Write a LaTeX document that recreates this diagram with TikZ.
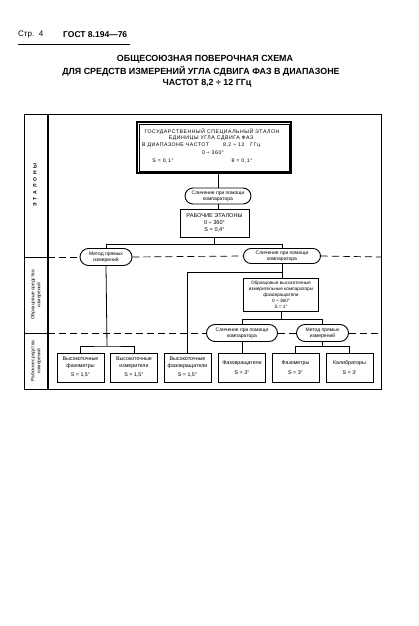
\documentclass[tikz,border=0pt]{standalone}
\usepackage{fontspec}
\setmainfont{Liberation Sans}
\usetikzlibrary{shapes.misc,calc}
\newcommand{\myfs}[1]{\fontsize{#1}{#1}\selectfont}
\begin{document}
\begin{tikzpicture}[x=1pt,y=-1pt,
  title/.style={font=\bfseries\myfs{8.9}, inner sep=0pt},
  bx/.style={draw, line width=1pt, fill=white, align=center, inner sep=0pt, font=\fontsize{5.3}{7}\selectfont},
  pill/.style={draw, rounded rectangle, line width=0.9pt, fill=white, align=center, inner sep=0pt, font=\fontsize{5}{6.2}\selectfont},
  conn/.style={line width=0.8pt},
  sepline/.style={line width=0.7pt, dash pattern=on 7pt off 4pt},
  lbl/.style={rotate=90, align=center, font=\fontsize{4.8}{6}\selectfont, inner sep=0pt},
  txt/.style={inner sep=0pt, font=\addfontfeature{LetterSpace=10}\fontsize{5.2}{6}\selectfont}]
\useasboundingbox (0,0) rectangle (418,626);
\fill[white] (0,0) rectangle (418,626);

% header
\node[anchor=west, font=\myfs{8}, inner sep=0pt] (pg) at (18,35) {Стр.\ \ 4};
\node[anchor=west, font=\bfseries\myfs{8.5}, inner sep=0pt] (gost) at (63,35) {ГОСТ 8.194—76};
\draw[line width=0.9pt] (18,44) -- (130,44);
\node[title] (t1) at (205,59) {ОБЩЕСОЮЗНАЯ ПОВЕРОЧНАЯ СХЕМА};
\node[title] (t2) at (201,71) {ДЛЯ СРЕДСТВ ИЗМЕРЕНИЙ УГЛА СДВИГА ФАЗ В ДИАПАЗОНЕ};
\node[title] (t3) at (207,83) {ЧАСТОТ 8,2 ÷ 12 ГГц};

% frame
\draw[line width=1pt] (24,114) rectangle (381,389);
\draw[line width=1.4pt] (48,114) -- (48,389);
\draw[line width=0.8pt] (24,257) -- (48,257);
\draw[line width=0.8pt] (24,333) -- (48,333);
\node[lbl, font=\bfseries\fontsize{5}{6}\selectfont] (l1) at (35,185) {Э\ \ Т\ \ А\ \ Л\ \ О\ \ Н\ \ Ы};
\node[lbl] (l2) at (36,295) {Образцовые средства\\измерений};
\node[lbl] (l3) at (36,361) {Рабочие средства\\измерений};

% nodes
\node[bx, line width=1.5pt, minimum width=154pt, minimum height=51pt] (big) at (214,147.5) {};
\draw[line width=0.45pt] ($(big.north west)+(2.5,2.5)$) rectangle ($(big.south east)+(-2.5,-2.5)$);
\node[txt] (bt1) at (212,132) {ГОСУДАРСТВЕННЫЙ СПЕЦИАЛЬНЫЙ ЭТАЛОН};
\node[txt] (bt2) at (211,138.5) {ЕДИНИЦЫ УГЛА СДВИГА ФАЗ};
\node[txt, anchor=west] (bt3) at (142,145) {В ДИАПАЗОНЕ ЧАСТОТ\hspace{14pt}8,2 ÷ 12\hspace{6pt}ГГц};
\node[txt] (bt4) at (213,152.5) {0 ÷ 360°};
\node[txt] (bt5) at (163,161) {S = 0,1°};
\node[txt] (bt6) at (242,161) {θ = 0,1°};

\node[pill, minimum width=66pt, minimum height=16pt] (c1) at (218,196) {Сличение при помощи\\компаратора};
\node[bx, minimum width=69pt, minimum height=28pt, font=\fontsize{5.6}{7.2}\selectfont] (work) at (214.5,223) {РАБОЧИЕ ЭТАЛОНЫ\\0 ÷ 360°\\S = 0,4°};
\node[pill, minimum width=52pt, minimum height=17pt] (m1) at (106,257) {Метод прямых\\измерений};
\node[pill, minimum width=77pt, minimum height=15pt] (c2) at (282,256) {Сличение при помощи\\компаратора};
\node[bx, minimum width=75pt, minimum height=33pt, font=\fontsize{4.7}{5.9}\selectfont] (obr) at (281,294.5) {Образцовые высокоточные\\измерительные компараторы\\фазовращатели\\0 ÷ 360°\\S = 1°};
\node[pill, minimum width=71pt, minimum height=17pt] (c3) at (242,333) {Сличение при помощи\\компаратора};
\node[pill, minimum width=52pt, minimum height=17pt] (m2) at (322.5,333) {Метод прямых\\измерений};

\foreach \n/\x/\t in {b1/80.5/{Высокоточные\\фазометры\\[2pt]S = 1,5°},
                      b2/134/{Высокоточные\\измерители\\[2pt]S = 1,5°},
                      b3/187.5/{Высокоточные\\фазовращатели\\[2pt]S = 1,5°},
                      b4/242/{Фазовращатели\\[3pt]S = 3°},
                      b5/295.5/{Фазометры\\[3pt]S = 3°},
                      b6/349.5/{Калибраторы\\[3pt]S = 3′}}
  \node[bx, minimum width=47pt, minimum height=29pt] (\n) at (\x,367.5) {\t};

% dashed separators
\draw[sepline] (48,257) -- (m1.west);
\draw[sepline] (m1.east) -- (c2.west);
\draw[sepline] (c2.east) -- (381,257);
\draw[sepline] (48,333) -- (c3.west);
\draw[sepline] (c3.east) -- (m2.west);
\draw[sepline] (m2.east) -- (381,333);

% connectors
\draw[conn] (big.south -| c1.north) -- (c1.north);
\draw[conn] (c1.south) -- (c1.south |- work.north);
\coordinate (j1) at ($(work.south)+(0,7)$);
\draw[conn] (work.south) -- (j1);
\draw[conn] (m1.north) |- (j1) -| (c2.north);
\coordinate (j2) at (282,272);
\draw[conn] (c2.south) -- (obr.north -| c2.south);
\draw[conn] (b3.north) |- (j2);
\coordinate (j3) at ($(obr.south)+(0,8)$);
\draw[conn] (obr.south) -- (j3);
\draw[conn] (c3.north) |- (j3) -| (m2.north);
\draw[conn] (c3.south) -- (b4.north);
\coordinate (j4) at (107,346);
\draw[conn] (m1.south) -- (j4);
\draw[conn] (b1.north) |- (j4) -| (b2.north);
\coordinate (j5) at ($(m2.south)+(0,4.5)$);
\draw[conn] (m2.south) -- (j5);
\draw[conn] (b5.north) |- (j5) -| (b6.north);
\end{tikzpicture}
\end{document}
